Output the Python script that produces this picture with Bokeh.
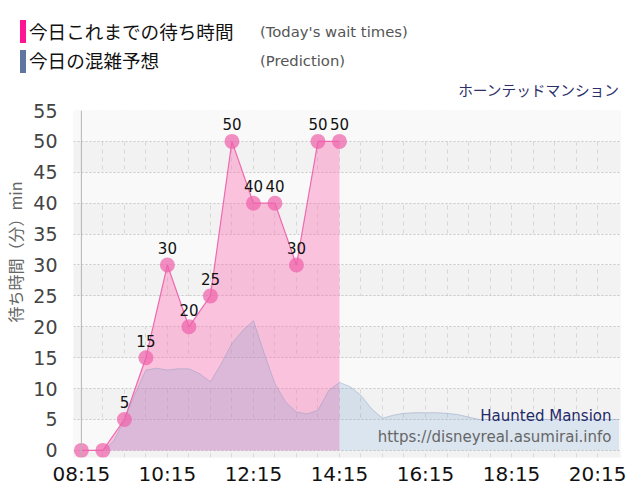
from bokeh.plotting import figure
from bokeh.layouts import column
from bokeh.models import FixedTicker, Label, Span, ColumnDataSource, Range1d, Div
from bokeh.core.properties import value
from bokeh.embed import file_html
from bokeh.resources import INLINE

# ---------------- data ----------------
wait_times = ["08:15", "08:45", "09:15", "09:45", "10:15", "10:45", "11:15",
              "11:45", "12:15", "12:45", "13:15", "13:45", "14:15"]
wait_values = [0, 0, 5, 15, 30, 20, 25, 50, 40, 40, 30, 50, 50]

pred_times = ["08:15", "08:30", "08:45", "09:00", "09:15", "09:30", "09:45",
              "10:00", "10:15", "10:30", "10:45", "11:00", "11:15", "11:30",
              "11:45", "12:00", "12:15", "12:30", "12:45", "13:00", "13:15",
              "13:30", "13:45", "14:00", "14:15", "14:30", "14:45", "15:00",
              "15:15", "15:30", "15:45", "16:00", "16:15", "16:30", "16:45",
              "17:00", "17:15", "17:30", "17:45", "18:00", "18:15", "18:30",
              "18:45", "19:00", "19:15", "19:30", "19:45", "20:00", "20:15",
              "20:30", "20:45"]
pred_values = [0, 0, 0, 1.5, 5.0, 9.2, 13.0,
               13.3, 13.0, 13.2, 13.2, 12.4, 11.1, 14.0,
               17.3, 19.4, 21.0, 15.7, 10.8, 7.8, 6.2,
               5.9, 6.5, 9.7, 11.0, 10.3, 8.9, 6.7,
               5.2, 5.7, 6.0, 6.1, 6.1, 6.1, 6.0,
               5.8, 5.4, 5.0, 5.0, 5.0, 5.0, 5.0,
               5.0, 5.0, 5.0, 5.0, 5.0, 5.0, 5.0,
               5.0, 5.0]

x_tick_labels = ["08:15", "10:15", "12:15", "14:15", "16:15", "18:15", "20:15"]
grid_times = ["08:15", "08:45", "09:15", "09:45", "10:15", "10:45", "11:15",
              "11:45", "12:15", "12:45", "13:15", "13:45", "14:15", "14:45",
              "15:15", "15:45", "16:15", "16:45", "17:15", "17:45", "18:15",
              "18:45", "19:15", "19:45", "20:15"]
y_ticks = [0, 5, 10, 15, 20, 25, 30, 35, 40, 45, 50, 55]


def hm(s):
    h, m = s.split(":")
    return int(h) * 60 + int(m)


W, H = 640, 500
HEAD = 100                 # header height (page px)
FL, FT, FB = 72, 110, 457  # frame left / top / bottom in page pixels
JP = "Noto Sans CJK JP"
LAT = "DejaVu Sans"

# ---------------- header (HTML) ----------------
header_html = f"""
<div style="position:relative;width:{W}px;height:{HEAD}px;">
  <div style="position:absolute;left:20px;top:20px;width:6px;height:23px;background:#ff1493;"></div>
  <div style="position:absolute;left:29px;top:19px;font-family:'{JP}';font-size:18.6px;line-height:24px;color:#111;white-space:nowrap;">今日これまでの待ち時間</div>
  <div style="position:absolute;left:260px;top:22px;font-family:'{LAT}';font-size:14.8px;line-height:20px;color:#555;white-space:nowrap;">(Today's wait times)</div>
  <div style="position:absolute;left:20px;top:50px;width:6px;height:23px;background:#5f77a0;"></div>
  <div style="position:absolute;left:29px;top:48px;font-family:'{JP}';font-size:18.6px;line-height:24px;color:#111;white-space:nowrap;">今日の混雑予想</div>
  <div style="position:absolute;left:260px;top:51px;font-family:'{LAT}';font-size:14.8px;line-height:20px;color:#555;white-space:nowrap;">(Prediction)</div>
  <div style="position:absolute;right:21px;top:79px;font-family:'{JP}';font-size:14.7px;line-height:22px;color:#2b2f6b;white-space:nowrap;">ホーンテッドマンション</div>
</div>
"""
header = Div(text=header_html, width=W, height=HEAD, margin=0)

# ---------------- figure ----------------
p = figure(width=W, height=H - HEAD, output_backend="svg", toolbar_location=None,
           x_range=Range1d(hm("08:15") - 11, hm("20:15") + 32),
           y_range=Range1d(-1.15, 55),
           min_border_left=FL, min_border_right=20, min_border_top=FT - HEAD,
           min_border_bottom=H - FB, margin=0)
p.outline_line_color = None
p.background_fill_color = "#f2f2f2"
p.border_fill_color = "white"

# grids
p.ygrid.ticker = FixedTicker(ticks=y_ticks)
p.ygrid.grid_line_color = "#c8c8c8"
p.ygrid.grid_line_dash = "2 2"
p.ygrid.band_fill_color = "#f9f9f9"
p.ygrid.band_fill_alpha = 1.0
p.xgrid.ticker = FixedTicker(ticks=[hm(t) for t in grid_times])
p.xgrid.grid_line_color = "#d8d8d8"
p.xgrid.grid_line_dash = "4 4"

# axes
p.xaxis.ticker = FixedTicker(ticks=[hm(t) for t in x_tick_labels])
p.xaxis.major_label_overrides = {hm(t): t for t in x_tick_labels}
p.xaxis.axis_line_color = None
p.xaxis.major_tick_line_color = None
p.xaxis.minor_tick_line_color = None
p.xaxis.major_label_text_font = LAT
p.xaxis.major_label_text_font_size = "20px"
p.xaxis.major_label_text_color = "#111111"
p.xaxis.major_label_standoff = -2

p.yaxis.ticker = FixedTicker(ticks=y_ticks)
p.yaxis.axis_line_color = None
p.yaxis.major_tick_line_color = None
p.yaxis.minor_tick_line_color = None
p.yaxis.major_label_text_font = LAT
p.yaxis.major_label_text_font_size = "19px"
p.yaxis.major_label_text_color = "#444444"
p.yaxis.major_label_standoff = 10
p.yaxis.axis_label = "\u3000\u3000\u3000\u3000待ち時間（分）min"
p.yaxis.axis_label_text_font = JP
p.yaxis.axis_label_text_font_size = "16px"
p.yaxis.axis_label_text_font_style = "normal"
p.yaxis.axis_label_text_color = "#666666"
p.yaxis.axis_label_standoff = 3

p.add_layout(Span(location=hm("08:15"), dimension="height",
                  line_color="#b4b4b4", line_width=1))

# data sources
wsrc = ColumnDataSource(dict(x=[hm(t) for t in wait_times], y=wait_values,
                             lab=[str(v) if v > 0 else "" for v in wait_values]))
psrc = ColumnDataSource(dict(x=[hm(t) for t in pred_times], y=pred_values))

p.varea(x="x", y1=0, y2="y", source=wsrc, fill_color="#ff69b4", fill_alpha=0.38)
p.varea(x="x", y1=0, y2="y", source=psrc, fill_color="#6496c8", fill_alpha=0.2)
p.line(x="x", y="y", source=psrc, line_color="#8c9cbc", line_alpha=0.45, line_width=1)
p.line(x="x", y="y", source=wsrc, line_color="#ee6aae", line_width=1.2)
p.scatter(x="x", y="y", source=wsrc, size=15, fill_color="#ee62aa",
          fill_alpha=0.72, line_color=None)
p.text(x="x", y="y", text="lab", source=wsrc, text_align="center",
       text_baseline="bottom", y_offset=-11, text_font=value(LAT),
       text_font_size="15px", text_color="#111111")


def lab(text, x, ytop, size, color, font, align="left"):
    # screen units are relative to the frame (left, bottom)
    p.add_layout(Label(x=x - FL, y=FB - ytop, x_units="screen", y_units="screen",
                       text=text, text_font=font, text_font_size=size,
                       text_color=color, text_align=align,
                       text_baseline="middle"))


# watermark
lab("Haunted Mansion", 610, 415, "15px", "#1f2a6b", LAT, align="right")
lab("https://disneyreal.asumirai.info", 610, 436, "15px", "#666666", LAT, align="right")

layout = column(header, p, spacing=0, margin=0)
open("out.html", "w").write(file_html(layout, INLINE))
